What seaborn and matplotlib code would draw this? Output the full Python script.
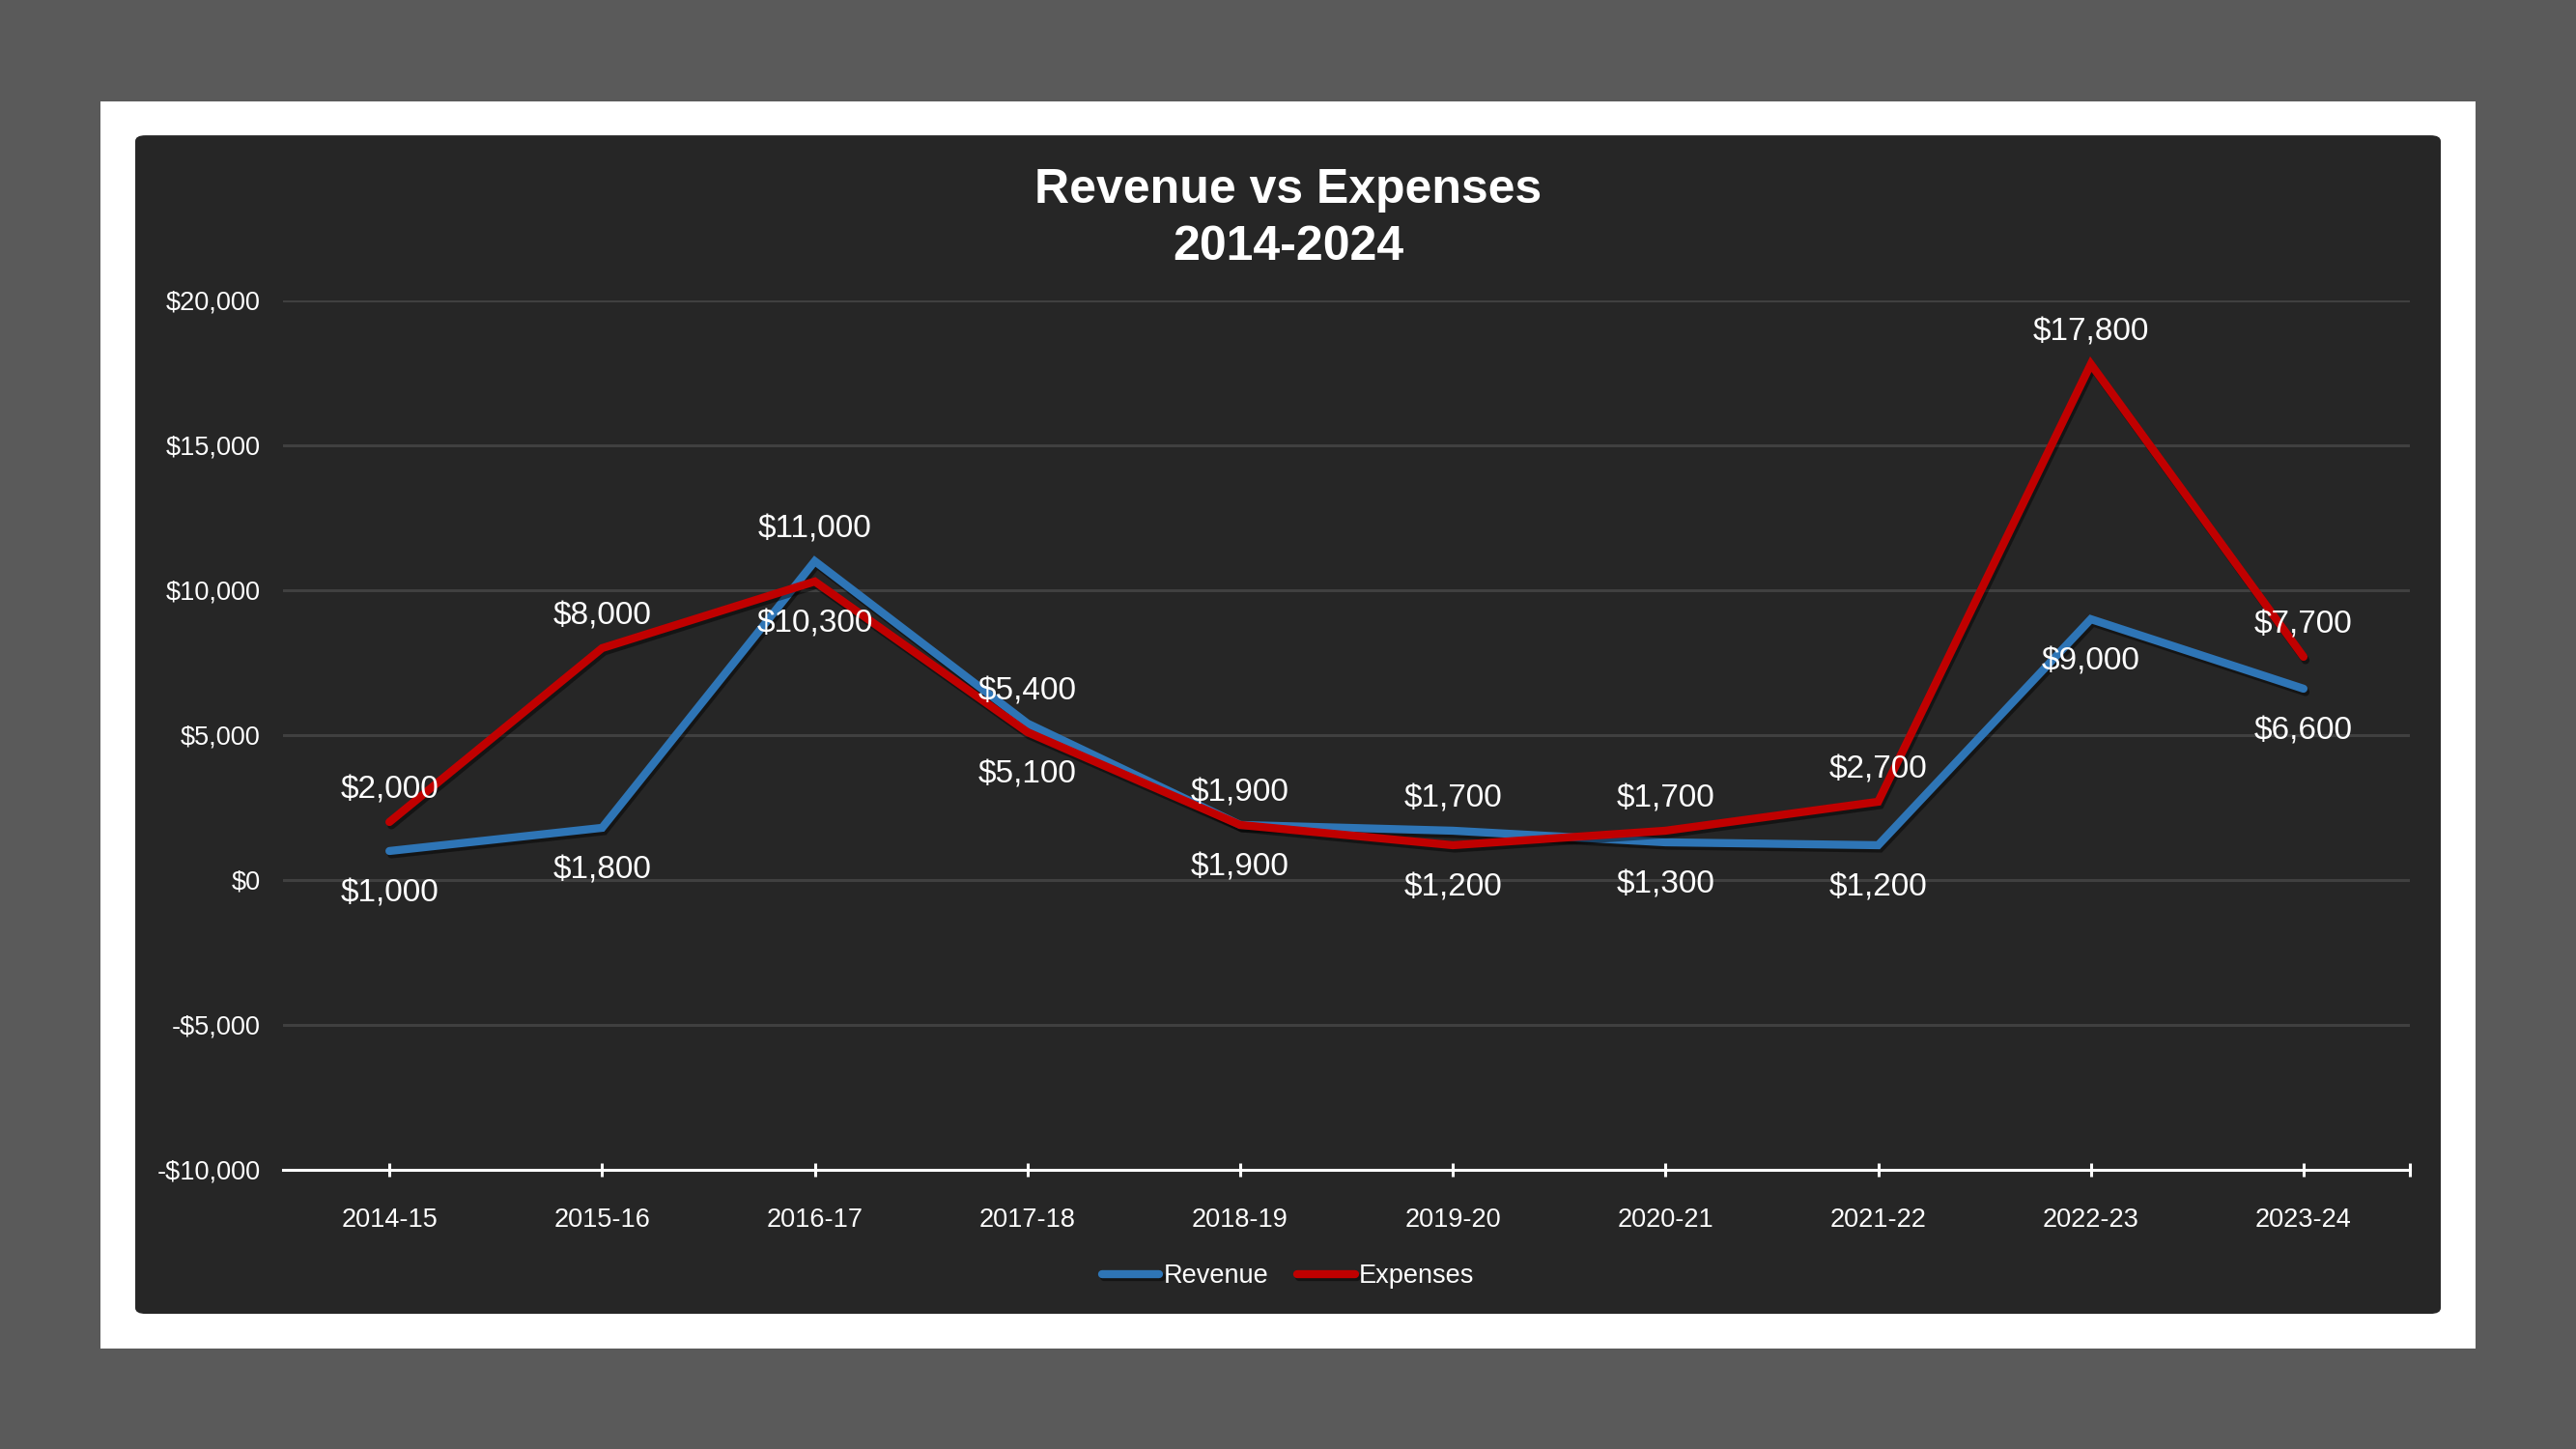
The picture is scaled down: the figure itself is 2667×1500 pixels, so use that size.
import matplotlib
matplotlib.use("Agg")
import matplotlib.pyplot as plt
import matplotlib.patheffects as pe
from matplotlib.patches import Rectangle, FancyBboxPatch
from matplotlib.ticker import FuncFormatter
import seaborn as sns
import pandas as pd

# data
years = ['2014-15', '2015-16', '2016-17', '2017-18', '2018-19',
         '2019-20', '2020-21', '2021-22', '2022-23', '2023-24']
revenue = [1000, 1800, 11000, 5400, 1900, 1700, 1300, 1200, 9000, 6600]
expenses = [2000, 8000, 10300, 5100, 1900, 1200, 1700, 2700, 17800, 7700]
series_names = ['Revenue', 'Expenses']
series_colors = ['#2E75B6', '#C00000']

df = pd.DataFrame({
    'Year': years * 2,
    'pos': list(range(len(years))) * 2,
    'Amount': revenue + expenses,
    'Series': ['Revenue'] * len(years) + ['Expenses'] * len(years),
})

sns.set_style('dark')
plt.rcParams['font.family'] = ['Liberation Sans', 'DejaVu Sans']

fig = plt.figure(figsize=(26.67, 15), dpi=100)
fig.patch.set_facecolor('#5a5a5a')

# white frame + dark rounded panel (behind the axes)
fig.patches.append(Rectangle((0.039, 0.0693), 0.922, 0.8607, transform=fig.transFigure,
                             facecolor='white', edgecolor='none', zorder=-3))
fig.patches.append(FancyBboxPatch((0.0525, 0.0933), 0.895, 0.8133,
                                  boxstyle='round,pad=0,rounding_size=0.004',
                                  transform=fig.transFigure, facecolor='#262626',
                                  edgecolor='none', zorder=-2))

ax = fig.add_axes([0.1099, 0.1927, 0.8256, 0.6])
ax.set_facecolor('none')

shadow = [pe.SimpleLineShadow(offset=(1.5, -2.5), shadow_color='black', alpha=0.45), pe.Normal()]
sns.lineplot(data=df, x='pos', y='Amount', hue='Series', hue_order=series_names,
             palette=dict(zip(series_names, series_colors)), linewidth=6,
             ax=ax, legend=True, sort=False)
for ln in ax.get_lines():
    ln.set_solid_capstyle('round')
    ln.set_solid_joinstyle('miter')
    ln.set_path_effects(shadow)

# data labels: the higher series goes above, the lower one below
for i in range(len(years)):
    rev_up = revenue[i] >= expenses[i]
    for val, up in ((revenue[i], rev_up), (expenses[i], not rev_up)):
        ax.annotate('${:,.0f}'.format(val), (i, val), xytext=(0, 23.5 if up else -31.5),
                    textcoords='offset points', ha='center', va='center',
                    fontsize=24, color='white', zorder=5)

ax.set_xlim(-0.5, len(years) - 0.5)
ax.set_ylim(-10000, 20000)
ax.set_yticks(range(-10000, 20001, 5000))
ax.yaxis.set_major_formatter(FuncFormatter(lambda v, p: ('-$' if v < 0 else '$') + '{:,.0f}'.format(abs(v))))
ax.set_xticks(range(len(years)))
ax.set_xticks([len(years) - 0.5], minor=True)
ax.set_xticklabels(years)
ax.set_xlabel('')
ax.set_ylabel('')

ax.grid(axis='y', color='#404040', linewidth=2.2)
ax.grid(axis='x', visible=False)
for s in ['top', 'right', 'left']:
    ax.spines[s].set_visible(False)
ax.spines['bottom'].set_color('white')
ax.spines['bottom'].set_linewidth(2.2)
ax.spines['bottom'].set_zorder(3)

ax.tick_params(axis='y', length=0, pad=17, labelsize=19.5, labelcolor='white')
ax.tick_params(axis='x', which='both', direction='inout', length=10, width=2.2,
               color='white', pad=23, labelsize=19.5, labelcolor='white', bottom=True)

leg = ax.legend(loc='center', bbox_to_anchor=(0.5, 0.119), bbox_transform=fig.transFigure,
                ncol=2, frameon=False, fontsize=19.5, handlelength=2.2,
                handletextpad=0.15, columnspacing=1.1)
for t in leg.get_texts():
    t.set_color('white')
for h in leg.legend_handles:
    h.set_linewidth(6)
    h.set_solid_capstyle('round')

fig.text(0.5, 0.849, 'Revenue vs Expenses\n2014-2024', ha='center', va='center',
         fontsize=36, fontweight='bold', color='white', linespacing=1.35)

fig.savefig('out.png', dpi=100, facecolor=fig.get_facecolor())
